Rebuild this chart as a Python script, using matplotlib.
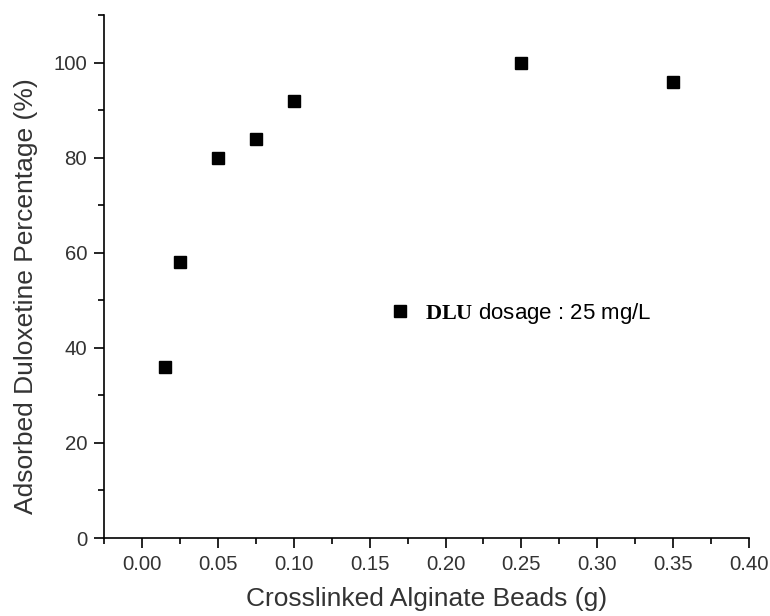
import numpy as np
import matplotlib
matplotlib.use('Agg')
import matplotlib.pyplot as plt
from matplotlib.ticker import MultipleLocator, FormatStrFormatter

plt.rcParams['font.family'] = ['Liberation Sans', 'DejaVu Sans']
plt.rcParams['mathtext.fontset'] = 'custom'
plt.rcParams['mathtext.bf'] = 'Liberation Serif:bold'
plt.rcParams['mathtext.rm'] = 'Liberation Sans'

# adsorbent dose (g) vs adsorbed percentage (%)
beads_g = [0.015, 0.025, 0.05, 0.075, 0.10, 0.25, 0.35]
adsorbed_pct = [36, 58, 80, 84, 92, 100, 96]
series_label = r'$\mathbf{DLU}$ dosage : 25 mg/L'

fig = plt.figure(figsize=(7.7, 6.16), dpi=100)
ax = fig.add_axes([0.1357, 0.1266, 0.8366, 0.849])

ax.plot(beads_g, adsorbed_pct, linestyle='none', marker='s', markersize=8.7,
        color='black', label=series_label)

ax.set_xlim(-0.025, 0.40)
ax.set_ylim(0, 110)
ax.xaxis.set_major_locator(MultipleLocator(0.05))
ax.xaxis.set_minor_locator(MultipleLocator(0.025))
ax.xaxis.set_major_formatter(FormatStrFormatter('%.2f'))
ax.yaxis.set_major_locator(MultipleLocator(20))
ax.yaxis.set_minor_locator(MultipleLocator(10))

for side in ['top', 'right']:
    ax.spines[side].set_visible(False)
for side in ['left', 'bottom']:
    ax.spines[side].set_linewidth(1.2)

ax.tick_params(which='major', direction='out', length=7.5, width=1.2,
               labelsize=14.7, labelcolor='#333333', pad=5)
ax.tick_params(which='minor', direction='out', length=4, width=1.2)

ax.set_xlabel('Crosslinked Alginate Beads (g)', fontsize=19, color='#333333', labelpad=9)
ax.set_ylabel('Adsorbed Duloxetine Percentage (%)', fontsize=19, color='#333333')
ax.yaxis.set_label_coords(-0.103, 0.463)

ax.legend(loc='center left', bbox_to_anchor=(0.411, 0.43), frameon=False,
          handlelength=1.0, handletextpad=0.6, fontsize=16, markerscale=0.95)

fig.savefig('out.png', dpi=100)
